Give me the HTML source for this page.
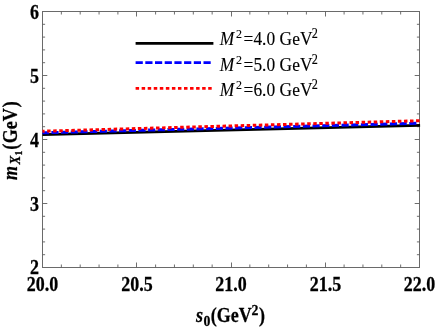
<!DOCTYPE html>
<html>
<head>
<meta charset="utf-8">
<title>plot</title>
<style>
html,body{margin:0;padding:0;background:#fff;}
body{width:436px;height:327px;overflow:hidden;}
svg{display:block;will-change:transform;}
text{font-family:"Liberation Serif",serif;fill:#000;}
.tk{font-weight:bold;font-size:18px;stroke:#000;stroke-width:0.25px;}
.lg{font-size:17.4px;stroke:#000;stroke-width:0.12px;}
.ax{font-weight:bold;font-size:18px;stroke:#000;stroke-width:0.25px;}
</style>
</head>
<body>
<svg width="436" height="327" viewBox="0 0 436 327">
<rect width="436" height="327" fill="#fff"/>
<!-- frame and ticks -->
<g stroke="#6a6a6a" stroke-width="1" fill="none">
<rect x="42.5" y="11.5" width="377.0" height="256.0"/>
<path d="M61.35 267.50L61.35 264.50M61.35 11.50L61.35 14.50M80.20 267.50L80.20 264.50M80.20 11.50L80.20 14.50M99.05 267.50L99.05 264.50M99.05 11.50L99.05 14.50M117.90 267.50L117.90 264.50M117.90 11.50L117.90 14.50M136.50 267.50L136.50 262.50M136.50 11.50L136.50 16.50M155.60 267.50L155.60 264.50M155.60 11.50L155.60 14.50M174.45 267.50L174.45 264.50M174.45 11.50L174.45 14.50M193.30 267.50L193.30 264.50M193.30 11.50L193.30 14.50M212.15 267.50L212.15 264.50M212.15 11.50L212.15 14.50M231.50 267.50L231.50 262.50M231.50 11.50L231.50 16.50M249.85 267.50L249.85 264.50M249.85 11.50L249.85 14.50M268.70 267.50L268.70 264.50M268.70 11.50L268.70 14.50M287.55 267.50L287.55 264.50M287.55 11.50L287.55 14.50M306.40 267.50L306.40 264.50M306.40 11.50L306.40 14.50M325.50 267.50L325.50 262.50M325.50 11.50L325.50 16.50M344.10 267.50L344.10 264.50M344.10 11.50L344.10 14.50M362.95 267.50L362.95 264.50M362.95 11.50L362.95 14.50M381.80 267.50L381.80 264.50M381.80 11.50L381.80 14.50M400.65 267.50L400.65 264.50M400.65 11.50L400.65 14.50M42.50 24.30L45.10 24.30M419.50 24.30L416.90 24.30M42.50 37.10L45.10 37.10M419.50 37.10L416.90 37.10M42.50 49.90L45.10 49.90M419.50 49.90L416.90 49.90M42.50 62.70L45.10 62.70M419.50 62.70L416.90 62.70M42.50 75.50L47.30 75.50M419.50 75.50L414.70 75.50M42.50 88.30L45.10 88.30M419.50 88.30L416.90 88.30M42.50 101.10L45.10 101.10M419.50 101.10L416.90 101.10M42.50 113.90L45.10 113.90M419.50 113.90L416.90 113.90M42.50 126.70L45.10 126.70M419.50 126.70L416.90 126.70M42.50 139.50L47.30 139.50M419.50 139.50L414.70 139.50M42.50 152.30L45.10 152.30M419.50 152.30L416.90 152.30M42.50 165.10L45.10 165.10M419.50 165.10L416.90 165.10M42.50 177.90L45.10 177.90M419.50 177.90L416.90 177.90M42.50 190.70L45.10 190.70M419.50 190.70L416.90 190.70M42.50 203.50L47.30 203.50M419.50 203.50L414.70 203.50M42.50 216.30L45.10 216.30M419.50 216.30L416.90 216.30M42.50 229.10L45.10 229.10M419.50 229.10L416.90 229.10M42.50 241.90L45.10 241.90M419.50 241.90L416.90 241.90M42.50 254.70L45.10 254.70M419.50 254.70L416.90 254.70" stroke="#5e5e5e" stroke-width="0.9"/>
</g>
<!-- curves -->
<line x1="42.5" y1="134.6" x2="420.1" y2="125.35" stroke="#000" stroke-width="2.7"/>
<line x1="42.5" y1="132.8" x2="417.5" y2="123.25" stroke="#0000ff" stroke-width="3.0" stroke-dasharray="7.2 2.475" stroke-dashoffset="0.8"/>
<line x1="42.5" y1="131.2" x2="420.0" y2="120.7" stroke="#ff0000" stroke-width="3.0" stroke-dasharray="3.5 2.55" stroke-dashoffset="1.4"/>
<!-- legend -->
<line x1="135.6" y1="43.35" x2="213.4" y2="43.35" stroke="#000" stroke-width="2.6"/>
<line x1="135.6" y1="62.6" x2="211.3" y2="62.6" stroke="#0000ff" stroke-width="2.6" stroke-dasharray="7.2 2.5"/>
<line x1="135.6" y1="88.4" x2="212.1" y2="88.4" stroke="#ff0000" stroke-width="2.9" stroke-dasharray="3.5 2.55"/>
<text class="lg" transform="translate(219.8,45.1) scale(1,1.12)"><tspan font-style="italic">M</tspan><tspan dx="1.6" dy="-6.6" font-size="12px">2</tspan><tspan dy="6.6" dx="1.7">=4.0 </tspan><tspan dx="0.1">GeV</tspan><tspan dy="-6.4" dx="-0.8" font-size="12.2px">2</tspan></text>
<text class="lg" transform="translate(219.8,71.0) scale(1,1.12)"><tspan font-style="italic">M</tspan><tspan dx="1.6" dy="-6.6" font-size="12px">2</tspan><tspan dy="6.6" dx="1.7">=5.0 </tspan><tspan dx="0.1">GeV</tspan><tspan dy="-6.4" dx="-0.8" font-size="12.2px">2</tspan></text>
<text class="lg" transform="translate(219.8,95.9) scale(1,1.12)"><tspan font-style="italic">M</tspan><tspan dx="1.6" dy="-6.6" font-size="12px">2</tspan><tspan dy="6.6" dx="1.7">=6.0 </tspan><tspan dx="0.1">GeV</tspan><tspan dy="-6.4" dx="-0.8" font-size="12.2px">2</tspan></text>
<!-- y tick labels -->
<text class="tk" text-anchor="end" transform="translate(39,19.3) scale(1,1.12)">6</text>
<text class="tk" text-anchor="end" transform="translate(39,82.6) scale(1,1.12)">5</text>
<text class="tk" text-anchor="end" transform="translate(39,146.6) scale(1,1.12)">4</text>
<text class="tk" text-anchor="end" transform="translate(39,210.6) scale(1,1.12)">3</text>
<text class="tk" text-anchor="end" transform="translate(39,274.3) scale(1,1.12)">2</text>
<!-- x tick labels -->
<text class="tk" text-anchor="middle" transform="translate(42.5,290.5) scale(1,1.12)">20.0</text>
<text class="tk" text-anchor="middle" transform="translate(136.9,290.5) scale(1,1.12)">20.5</text>
<text class="tk" text-anchor="middle" transform="translate(231.1,290.5) scale(1,1.12)">21.0</text>
<text class="tk" text-anchor="middle" transform="translate(325.4,290.5) scale(1,1.12)">21.5</text>
<text class="tk" text-anchor="middle" transform="translate(419.6,290.5) scale(1,1.12)">22.0</text>
<!-- x label -->
<text class="ax" transform="translate(195.9,321.9) scale(1,1.12)"><tspan font-style="italic">s</tspan><tspan dy="3.3" dx="0.5" font-size="13.8px">0</tspan><tspan dy="-3.3" dx="0.5">(GeV</tspan><tspan dy="-6.3" dx="-0.2" font-size="13.8px">2</tspan><tspan dy="6.3" dx="0.5">)</tspan></text>
<!-- y label -->
<text class="ax" transform="translate(17.1,180) rotate(-90) scale(1,1.12)"><tspan font-style="italic">m</tspan><tspan dy="2.4" dx="1.5" font-size="13px" font-style="italic">X</tspan><tspan dy="2.2" dx="0.3" font-size="9.5px">1</tspan><tspan dy="-4.6" dx="1.0">(</tspan><tspan dx="0.6">GeV</tspan><tspan dx="0.9">)</tspan></text>
</svg>
</body>
</html>
